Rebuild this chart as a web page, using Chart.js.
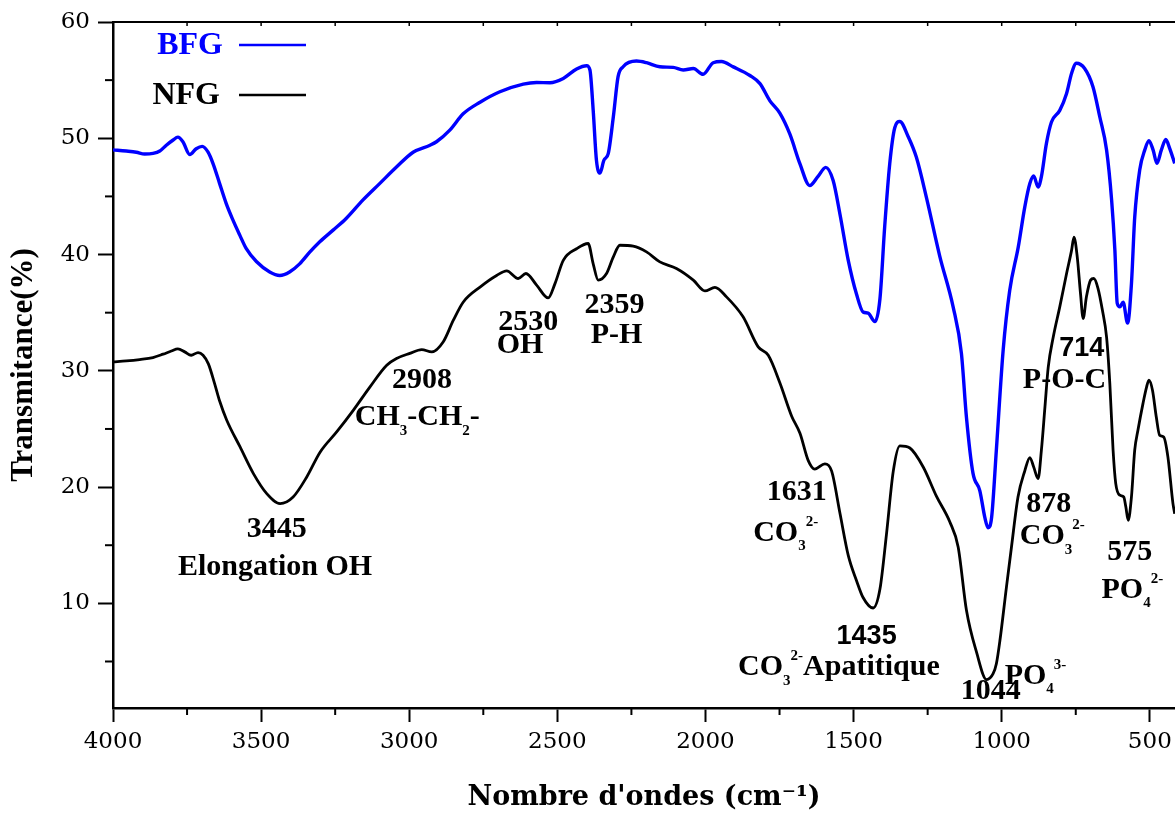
<!DOCTYPE html>
<html>
<head>
<meta charset="utf-8">
<script src="https://cdn.jsdelivr.net/npm/chart.js@4/dist/chart.umd.min.js"></script>
<style>
  html, body { margin: 0; padding: 0; background: #fff; }
  canvas { display: block; }
</style>
</head>
<body>
<canvas id="ftirChart" width="1175" height="814"></canvas>
<script>
// wavenumbers (cm-1) and transmittance (%)
const bfgWave = [4000, 3955, 3921, 3893, 3865, 3842, 3820, 3797, 3781, 3764, 3741, 3719, 3699, 3679, 3662, 3640, 3618, 3595, 3572, 3550,
  3516, 3471, 3437, 3404, 3370, 3336, 3302, 3257, 3213, 3156, 3100, 3044, 2987, 2930, 2908, 2863, 2818, 2761, 2694, 2615,
  2570, 2525, 2480, 2435, 2401, 2390, 2379, 2368, 2356, 2343, 2328, 2311, 2295, 2278, 2233, 2199, 2154, 2109, 2075, 2041,
  2008, 1974, 1946, 1906, 1850, 1816, 1783, 1749, 1715, 1681, 1648, 1620, 1594, 1569, 1546, 1518, 1490, 1468, 1451, 1428,
  1411, 1395, 1378, 1361, 1344, 1316, 1288, 1254, 1209, 1164, 1136, 1119, 1097, 1074, 1057, 1046, 1034, 1018, 995, 973,
  944, 922, 905, 892, 877, 866, 849, 832, 804, 781, 764, 748, 720, 692, 669, 646, 629, 618, 610, 601,
  590, 575, 562, 551, 534, 517, 503, 489, 476, 461, 446, 433, 416];
const bfgTrans = [49.0, 48.9, 48.8, 48.65, 48.7, 48.9, 49.4, 49.85, 50.1, 49.7, 48.6, 49.1, 49.3, 48.8, 47.8, 46.1, 44.4, 42.96, 41.67, 40.5,
  39.4, 38.5, 38.2, 38.5, 39.2, 40.2, 41.1, 42.1, 43.1, 44.7, 46.1, 47.5, 48.8, 49.4, 49.7, 50.7, 52.1, 53.1, 54.0, 54.66,
  54.8, 54.78, 55.15, 55.96, 56.24, 55.87, 52.4, 48.1, 47.0, 48.1, 48.7, 51.85, 55.3, 56.15, 56.64, 56.5, 56.15, 56.1, 55.87, 56.0,
  55.5, 56.5, 56.6, 56.14, 55.4, 54.7, 53.24, 52.16, 50.35, 47.8, 45.93, 46.72, 47.5, 46.36, 43.47, 39.5, 36.58, 35.06, 34.96, 34.23,
  36.2, 42.4, 47.8, 50.9, 51.44, 50.16, 48.36, 44.9, 39.85, 35.5, 31.5, 26.0, 21.2, 19.7, 17.4, 16.5, 17.4, 23.2, 31.8, 36.9,
  40.66, 44.1, 46.1, 46.75, 45.8, 46.7, 49.56, 51.4, 52.4, 53.86, 55.6, 56.45, 56.0, 54.43, 51.85, 49.0, 44.7, 40.4, 35.8, 35.5,
  35.9, 34.1, 37.5, 43.2, 47.3, 49.0, 49.8, 49.0, 47.84, 49.0, 49.9, 49.13, 47.84];

const nfgWave = [4000, 3955, 3910, 3865, 3831, 3803, 3781, 3758, 3736, 3713, 3696, 3678, 3657, 3640, 3616, 3571, 3526, 3481, 3436,
  3392, 3346, 3301, 3245, 3189, 3133, 3076, 3043, 2998, 2958, 2924, 2885, 2851, 2818, 2761, 2705, 2671, 2632, 2606, 2570,
  2531, 2508, 2480, 2435, 2396, 2379, 2362, 2334, 2311, 2289, 2244, 2199, 2154, 2098, 2041, 2002, 1968, 1929, 1873, 1822,
  1788, 1749, 1709, 1681, 1653, 1631, 1597, 1574, 1546, 1518, 1490, 1468, 1434, 1411, 1389, 1366, 1344, 1310, 1265, 1220,
  1175, 1147, 1119, 1085, 1051, 1029, 1018, 1006, 984, 967, 945, 922, 905, 892, 877, 866, 854, 843, 826, 804,
  781, 764, 756, 745, 734, 725, 714, 700, 689, 675, 660, 646, 635, 624, 615, 601, 588, 581, 573, 562,
  551, 540, 523, 511, 503, 491, 478, 467, 453, 439, 422, 416];
const nfgTrans = [30.77, 30.85, 30.97, 31.14, 31.43, 31.7, 31.88, 31.63, 31.34, 31.57, 31.34, 30.6, 28.9, 27.4, 25.75, 23.45, 21.16, 19.44, 18.58,
  19.15, 20.87, 23.0, 24.74, 26.6, 28.6, 30.48, 31.06, 31.5, 31.83, 31.63, 32.5, 34.35, 35.9, 37.2, 38.2, 38.6, 37.94, 38.37, 37.37,
  36.27, 37.5, 39.5, 40.5, 40.95, 39.2, 37.8, 38.37, 39.8, 40.8, 40.72, 40.23, 39.37, 38.8, 37.8, 36.88, 37.17, 36.36, 34.64, 32.06,
  31.33, 28.98, 26.1, 24.63, 22.28, 21.55, 22.0, 21.37, 17.75, 14.13, 11.95, 10.5, 9.6, 11.23, 15.94, 21.37, 23.55, 23.36, 21.73, 19.2,
  17.0, 14.85, 9.4, 5.8, 3.44, 3.95, 4.8, 6.8, 11.4, 14.85, 19.15, 21.4, 22.54, 21.73, 20.73, 23.17, 26.9, 30.3, 32.9, 35.5,
  38.37, 40.38, 41.5, 39.8, 36.65, 34.5, 36.36, 37.8, 37.94, 37.1, 35.2, 32.9, 28.9, 23.17, 20.3, 19.3, 19.15, 18.3, 17.14, 19.15,
  23.17, 24.9, 27.2, 28.6, 29.2, 28.33, 26.0, 24.46, 24.3, 22.6, 18.6, 17.7];

const seriesNames = ['BFG', 'NFG'];
const xTicks = [4000, 3500, 3000, 2500, 2000, 1500, 1000, 500];
const xMinor = [3750, 3250, 2750, 2250, 1750, 1250, 750];
const yTicks = [10, 20, 30, 40, 50, 60];
const yMinor = [5, 15, 25, 35, 45, 55];

// band labels: anchor in data units (wavenumber, transmittance at text baseline)
// parts: [text, '' | 'sub' | 'sup']
const bandLabels = [
  { wn: 3447, t: 15.7, align: 'center', parts: [['3445', '']] },
  { wn: 3453, t: 12.4, align: 'center', parts: [['Elongation OH', '']] },
  { wn: 2957, t: 28.5, align: 'center', parts: [['2908', '']] },
  { wn: 3184, t: 25.3, align: 'left', parts: [['CH', ''], ['3', 'sub'], ['-CH', ''], ['2', 'sub'], ['-', '']] },
  { wn: 2598, t: 33.5, align: 'center', parts: [['2530', '']] },
  { wn: 2626, t: 31.5, align: 'center', parts: [['OH', '']] },
  { wn: 2307, t: 35.0, align: 'center', parts: [['2359', '']] },
  { wn: 2300, t: 32.4, align: 'center', parts: [['P-H', '']] },
  { wn: 1692, t: 18.9, align: 'center', parts: [['1631', '']] },
  { wn: 1839, t: 15.4, align: 'left', parts: [['CO', ''], ['3', 'sub'], ['2-', 'sup']] },
  { wn: 1456, t: 6.5, align: 'center', sans: true, parts: [['1435', '']] },
  { wn: 1890, t: 3.8, align: 'left', parts: [['CO', ''], ['3', 'sub'], ['2-', 'sup'], ['Apatitique', '']] },
  { wn: 1037, t: 1.8, align: 'center', parts: [['1044', '']] },
  { wn: 990, t: 3.1, align: 'left', parts: [['PO', ''], ['4', 'sub'], ['3-', 'sup']] },
  { wn: 841, t: 17.9, align: 'center', parts: [['878', '']] },
  { wn: 939, t: 15.1, align: 'left', parts: [['CO', ''], ['3', 'sub'], ['2-', 'sup']] },
  { wn: 730, t: 31.3, align: 'center', sans: true, parts: [['714', '']] },
  { wn: 788, t: 28.5, align: 'center', parts: [['P-O-C', '']] },
  { wn: 568, t: 13.7, align: 'center', parts: [['575', '']] },
  { wn: 663, t: 10.5, align: 'left', parts: [['PO', ''], ['4', 'sub'], ['2-', 'sup']] }
];

function toPoints(xs, ys) {
  return xs.map((x, i) => ({ x: x, y: ys[i] }));
}

function drawRich(ctx, parts, x, y, align, size, family) {
  const small = Math.round(size * 0.5);
  const widths = parts.map(p => {
    ctx.font = 'bold ' + (p[1] ? small : size) + 'px ' + family;
    return ctx.measureText(p[0]).width;
  });
  const total = widths.reduce((a, b) => a + b, 0);
  let cx = align === 'center' ? x - total / 2 : x;
  parts.forEach((p, i) => {
    ctx.font = 'bold ' + (p[1] ? small : size) + 'px ' + family;
    let dy = 0;
    if (p[1] === 'sub') dy = size * 0.33;
    if (p[1] === 'sup') dy = -size * 0.5;
    ctx.fillText(p[0], cx, y + dy);
    cx += widths[i];
  });
}

const decorPlugin = {
  id: 'decor',
  afterDraw(chart) {
    const { ctx, chartArea, scales } = chart;
    const xs = scales.x, ys = scales.y;
    ctx.save();
    ctx.strokeStyle = '#000';
    ctx.fillStyle = '#000';

    // top frame line with small inward ticks
    ctx.lineWidth = 2;
    ctx.beginPath();
    ctx.moveTo(chartArea.left, chartArea.top);
    ctx.lineTo(chartArea.right, chartArea.top);
    ctx.stroke();
    ctx.lineWidth = 1.5;
    xTicks.concat(xMinor).forEach(v => {
      const px = xs.getPixelForValue(v);
      if (px <= chartArea.left + 1 || px > chartArea.right) return;
      ctx.beginPath();
      ctx.moveTo(px, chartArea.top);
      ctx.lineTo(px, chartArea.top + 4);
      ctx.stroke();
    });

    // minor ticks on the bottom and left axes
    ctx.lineWidth = 2;
    xMinor.forEach(v => {
      const px = xs.getPixelForValue(v);
      ctx.beginPath();
      ctx.moveTo(px, chartArea.bottom);
      ctx.lineTo(px, chartArea.bottom + 7);
      ctx.stroke();
    });
    yMinor.forEach(v => {
      const py = ys.getPixelForValue(v);
      ctx.beginPath();
      ctx.moveTo(chartArea.left, py);
      ctx.lineTo(chartArea.left - 8, py);
      ctx.stroke();
    });

    // band assignments
    ctx.textBaseline = 'alphabetic';
    ctx.textAlign = 'left';
    bandLabels.forEach(b => {
      const px = xs.getPixelForValue(b.wn);
      const py = ys.getPixelForValue(b.t);
      if (b.sans) drawRich(ctx, b.parts, px, py, b.align, 27, '"Liberation Sans", Arial, sans-serif');
      else drawRich(ctx, b.parts, px, py, b.align, 30, '"Liberation Serif", "Times New Roman", serif');
    });

    // legend: name then line sample
    const rows = [45, 95];
    chart.data.datasets.forEach((ds, i) => {
      const y = rows[i];
      ctx.font = 'bold 32px "Liberation Serif", "Times New Roman", serif';
      ctx.textAlign = 'right';
      ctx.textBaseline = 'middle';
      ctx.fillStyle = ds.borderColor;
      ctx.fillText(ds.label, i === 0 ? 223 : 220, y + 1);
      ctx.strokeStyle = ds.borderColor;
      ctx.lineWidth = 2.6;
      ctx.beginPath();
      ctx.moveTo(239, y);
      ctx.lineTo(306, y);
      ctx.stroke();
    });
    ctx.restore();
  }
};

new Chart(document.getElementById('ftirChart').getContext('2d'), {
  type: 'line',
  data: {
    datasets: [{
      label: seriesNames[0],
      data: toPoints(bfgWave, bfgTrans),
      borderColor: '#0000ff',
      borderWidth: 3.4,
      pointRadius: 0,
      cubicInterpolationMode: 'monotone',
      fill: false
    }, {
      label: seriesNames[1],
      data: toPoints(nfgWave, nfgTrans),
      borderColor: '#000000',
      borderWidth: 2.8,
      pointRadius: 0,
      cubicInterpolationMode: 'monotone',
      fill: false
    }]
  },
  options: {
    responsive: false,
    animation: false,
    layout: { padding: { top: 22, left: 0, right: 0, bottom: 0 } },
    plugins: {
      legend: { display: false },
      tooltip: { enabled: false }
    },
    scales: {
      x: {
        type: 'linear',
        reverse: true,
        min: 415,
        max: 4000,
        afterBuildTicks: s => { s.ticks = xTicks.map(v => ({ value: v })); },
        afterFit: s => { s.height = 106; s.paddingLeft = 0; s.paddingRight = 0; },
        ticks: {
          color: '#000',
          padding: 6,
          maxRotation: 0,
          autoSkip: false,
          callback: v => String(v),
          font: { family: '"DejaVu Serif", serif', size: 23 }
        },
        grid: { drawOnChartArea: false, drawTicks: true, tickLength: 14, tickWidth: 2, tickColor: '#000' },
        border: { display: true, color: '#000', width: 2.5 },
        title: {
          display: true,
          text: "Nombre d'ondes (cm\u207B\u00B9)",
          color: '#000',
          padding: { top: 0, bottom: 0 },
          font: { family: '"DejaVu Serif", serif', size: 27, weight: 'bold' }
        }
      },
      y: {
        min: 1,
        max: 60,
        afterBuildTicks: s => { s.ticks = yTicks.map(v => ({ value: v })); },
        afterFit: s => { s.width = 113; s.paddingTop = 0; s.paddingBottom = 0; },
        ticks: {
          color: '#000',
          padding: 8,
          callback: v => String(v),
          font: { family: '"DejaVu Serif", serif', size: 23 }
        },
        grid: { drawOnChartArea: false, drawTicks: true, tickLength: 15, tickWidth: 2, tickColor: '#000' },
        border: { display: true, color: '#000', width: 2.5 },
        title: {
          display: true,
          text: 'Transmitance(%)',
          color: '#000',
          padding: { top: 5, bottom: 0 },
          font: { family: '"Liberation Serif", serif', size: 31, weight: 'bold' }
        }
      }
    }
  },
  plugins: [decorPlugin]
});
</script>
</body>
</html>
